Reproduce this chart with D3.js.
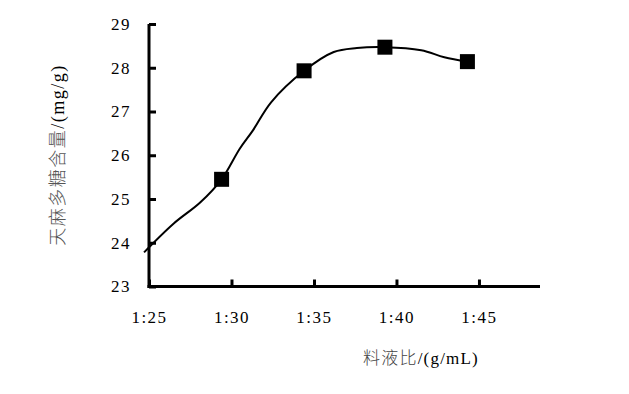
<!DOCTYPE html>
<html>
<head>
<meta charset="utf-8">
<script src="https://cdn.jsdelivr.net/npm/d3@7"></script>
<style>
  body { margin: 0; background: #fff; }
  text { font-family: "Liberation Serif", "Noto Sans CJK SC", serif; }
</style>
</head>
<body>
<div id="chart"></div>
<script>
// ratio (1:x) measured values
var ratios = [29.4, 34.4, 39.3, 44.3];
var contents = [25.45, 27.93, 28.47, 28.14];

// hand-smoothed fit curve drawn through the points
var curveX = [24.7, 26.5, 28.1, 29.4, 30.5, 31.3, 32.4, 34.4, 36.2, 37.6, 39.3, 41.5, 42.9, 44.3];
var curveY = [23.78, 24.44, 24.92, 25.45, 26.15, 26.57, 27.21, 27.93, 28.36, 28.45, 28.47, 28.40, 28.24, 28.14];

var xTicks = [25, 30, 35, 40, 45];
var xTickLabels = ["1:25", "1:30", "1:35", "1:40", "1:45"];
var yTicks = [23, 24, 25, 26, 27, 28, 29];

var margin = {top: 24, right: 89, bottom: 107.5, left: 149},
    width = 629 - margin.left - margin.right,
    height = 394 - margin.top - margin.bottom;

var svg = d3.select("#chart").append("svg")
    .attr("width", 629)
    .attr("height", 394);

var g = svg.append("g")
    .attr("transform", "translate(" + margin.left + "," + margin.top + ")");

var x = d3.scaleLinear().domain([25, 48.7]).range([0, width]),
    y = d3.scaleLinear().domain([23, 29]).range([height, 0]);

// axes, ticks pointing inward
var xAxis = g.append("g")
    .attr("transform", "translate(0," + height + ")")
    .call(d3.axisBottom(x)
      .tickValues(xTicks)
      .tickFormat(function(d, i) { return xTickLabels[i]; })
      .tickSizeInner(-7).tickSizeOuter(0).tickPadding(24));

var yAxis = g.append("g")
    .call(d3.axisLeft(y)
      .tickValues(yTicks)
      .tickFormat(d3.format("d"))
      .tickSizeInner(-7).tickSizeOuter(0).tickPadding(18));

[xAxis, yAxis].forEach(function(a) {
  a.select(".domain").attr("stroke", "#000").attr("stroke-width", 3);
  a.selectAll(".tick line").attr("stroke", "#000").attr("stroke-width", 3);
  a.selectAll(".tick text")
    .attr("fill", "#000")
    .style("font-size", "17px")
    .style("letter-spacing", "1.5px")
    .style("font-family", "'Liberation Serif', serif");
});
yAxis.select(".domain").attr("d", "M0," + (height + 1.5) + "V0");
xAxis.select(".domain").attr("d", "M-1.5,0H" + width);

// fitted curve
var pts = curveX.map(function(d, i) { return [d, curveY[i]]; });
g.append("path")
    .datum(pts)
    .attr("fill", "none")
    .attr("stroke", "#000")
    .attr("stroke-width", 2)
    .attr("d", d3.line()
      .x(function(d) { return x(d[0]); })
      .y(function(d) { return y(d[1]); })
      .curve(d3.curveCatmullRom.alpha(0.5)));

// square markers
var s = 15;
g.selectAll(".pt")
    .data(ratios)
  .enter().append("rect")
    .attr("class", "pt")
    .attr("x", function(d) { return x(d) - s / 2; })
    .attr("y", function(d, i) { return y(contents[i]) - s / 2; })
    .attr("width", s)
    .attr("height", s)
    .attr("fill", "#000");

// axis titles
var xt = svg.append("text")
    .attr("x", 421)
    .attr("y", 364)
    .attr("text-anchor", "middle")
    .style("font-size", "17px")
    .style("letter-spacing", "1.2px");
xt.append("tspan").attr("fill", "#444").style("font-family", "'Noto Sans CJK SC', sans-serif").style("font-weight", 300).text("料液比");
xt.append("tspan").attr("fill", "#000").text("/(g/mL)");

var yt = svg.append("text")
    .attr("transform", "translate(64,155) rotate(-90)")
    .attr("text-anchor", "middle")
    .style("font-size", "18px")
    .style("letter-spacing", "1.5px");
yt.append("tspan").attr("fill", "#555").style("font-family", "'Noto Sans CJK SC', sans-serif").style("font-weight", 300).text("天麻多糖含量");
yt.append("tspan").attr("fill", "#000").text("/(mg/g)");
</script>
</body>
</html>
